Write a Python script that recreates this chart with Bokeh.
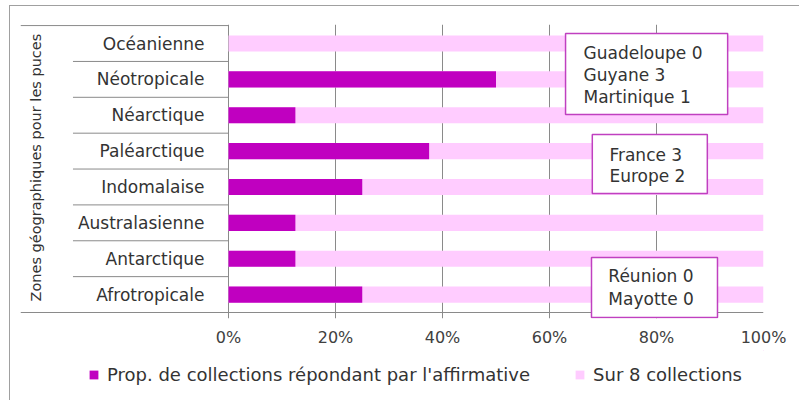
from bokeh.plotting import figure
from bokeh.models import (Range1d, FixedTicker, NumeralTickFormatter, ColumnDataSource,
                          BoxAnnotation, Label, Legend, LegendItem, Spacer)
from bokeh.layouts import row, column
from bokeh.core.properties import value
from bokeh.embed import file_html
from bokeh.resources import INLINE
import math

# ---------------- data ----------------
zones = ["Océanienne", "Néotropicale", "Néarctique", "Paléarctique",
         "Indomalaise", "Australasienne", "Antarctique", "Afrotropicale"]
prop_affirmative = [0.0, 0.5, 0.125, 0.375, 0.25, 0.125, 0.125, 0.25]
sur_8_collections = [1.0, 1.0, 1.0, 1.0, 1.0, 1.0, 1.0, 1.0]
x_ticks = [0.0, 0.2, 0.4, 0.6, 0.8, 1.0]
series_names = ["Prop. de collections répondant par l'affirmative", "Sur 8 collections"]
axis_title = "Zones géographiques pour les puces"

box1_places = ["Guadeloupe", "Guyane", "Martinique"]
box1_counts = [0, 3, 1]
box2_places = ["France", "Europe"]
box2_counts = [3, 2]
box3_places = ["Réunion", "Mayotte"]
box3_counts = [0, 0]

DARK = "#C000C0"
PINK = "#FFCCFF"
GRID = "#8a8a8a"
FONT = "DejaVu Sans"

n = len(zones)
ypos = [n - 0.5 - i for i in range(n)]
XL = -208 / 535

p = figure(width=790, height=345, output_backend="svg", toolbar_location=None,
           x_range=Range1d(XL, 1.0), y_range=Range1d(-6 / 35.875, 8.03),
           y_axis_location=None, min_border_left=10, min_border_right=37,
           min_border_top=18, min_border_bottom=33)
p.styles = {"border-left": "1px solid #a0a0a0", "border-top": "1px solid #a0a0a0"}
p.outline_line_color = None
p.background_fill_color = "white"
p.border_fill_color = "white"
p.ygrid.visible = False
p.xgrid.ticker = FixedTicker(ticks=x_ticks)
p.xgrid.grid_line_color = GRID
p.xgrid.grid_line_width = 1

ax = p.xaxis[0]
ax.ticker = FixedTicker(ticks=x_ticks)
ax.formatter = NumeralTickFormatter(format="0%")
ax.axis_line_color = None
ax.major_tick_line_color = None
ax.major_tick_out = 0
ax.major_tick_in = 0
ax.minor_tick_line_color = None
ax.major_label_standoff = 9
ax.major_label_text_font = FONT
ax.major_label_text_font_size = "16px"
ax.major_label_text_color = "#404040"

src = ColumnDataSource(dict(y=ypos, zone=zones, prop=prop_affirmative, tot=sur_8_collections))
r_pink = p.hbar(y="y", left=0, right="tot", height=0.45, source=src,
                fill_color=PINK, line_color=None)
r_dark = p.hbar(y="y", left=0, right="prop", height=0.45, source=src,
                fill_color=DARK, line_color=None)

# category labels and separators
p.text(x=-0.045, y="y", text="zone", source=src, text_align="right", text_baseline="middle",
       text_font=value(FONT), text_font_size="17px", text_color="#333333")
bounds = list(range(1, n))
p.segment(x0=[-0.2907] * len(bounds), y0=bounds, x1=[0] * len(bounds), y1=bounds,
          line_color=GRID, line_width=1)
p.segment(x0=[XL, XL], y0=[n, 0], x1=[0, 1.0], y1=[n, 0], line_color=GRID, line_width=1)

p.text(x=[-0.3589], y=[4.04], text=[axis_title], angle=math.pi / 2, text_align="center",
       text_baseline="middle", text_font=value(FONT), text_font_size="14.5px",
       text_color="#333333")

# annotation boxes
boxes = [
    (0.630, 0.933, 7.777, 5.519, 0.6636, [7.247, 6.634, 6.021], box1_places, box1_counts),
    (0.680, 0.895, 4.962, 3.317, 0.712, [4.404, 3.819], box2_places, box2_counts),
    (0.6785, 0.914, 1.533, -0.139, 0.710, [1.031, 0.390], box3_places, box3_counts),
]
for left, right, top, bottom, tx, tys, places, counts in boxes:
    p.add_layout(BoxAnnotation(left=left, right=right, top=top, bottom=bottom,
                               fill_color="white", fill_alpha=1.0,
                               line_color="#C040C0", line_width=1.5, line_alpha=1.0))
    for ty, pl, c in zip(tys, places, counts):
        p.add_layout(Label(x=tx, y=ty, text=f"{pl} {c}", text_baseline="middle",
                           text_font=FONT, text_font_size="17px", text_color="#333333"))

# ---------------- legend strip ----------------
pl_ = figure(width=790, height=50, output_backend="svg", toolbar_location=None,
             x_axis_location=None, y_axis_location=None, x_range=Range1d(0, 1),
             y_range=Range1d(0, 1), min_border=0)
pl_.styles = {"border-left": "1px solid #a0a0a0"}
pl_.outline_line_color = None
pl_.xgrid.visible = False
pl_.ygrid.visible = False
# off-range proxies so that the legend can show the two series' swatches
lg_dark = pl_.hbar(y=[5], left=[5], right=[6], height=0.5, fill_color=DARK, line_color=None)
lg_pink = pl_.hbar(y=[5], left=[5], right=[6], height=0.5, fill_color=PINK, line_color=None)
legend = Legend(items=[LegendItem(label=series_names[0], renderers=[lg_dark]),
                       LegendItem(label=series_names[1], renderers=[lg_pink])],
                orientation="horizontal", location=(68, 15),
                glyph_width=11, glyph_height=11, label_standoff=8, spacing=44,
                padding=0, margin=0, border_line_color=None, background_fill_alpha=0,
                label_text_font=FONT, label_text_font_size="18px", label_text_color="#333333")
pl_.add_layout(legend)

layout = column(Spacer(width=790, height=5), row(Spacer(width=9, height=395), column(p, pl_)))
open("out.html", "w").write(file_html(layout, INLINE))
